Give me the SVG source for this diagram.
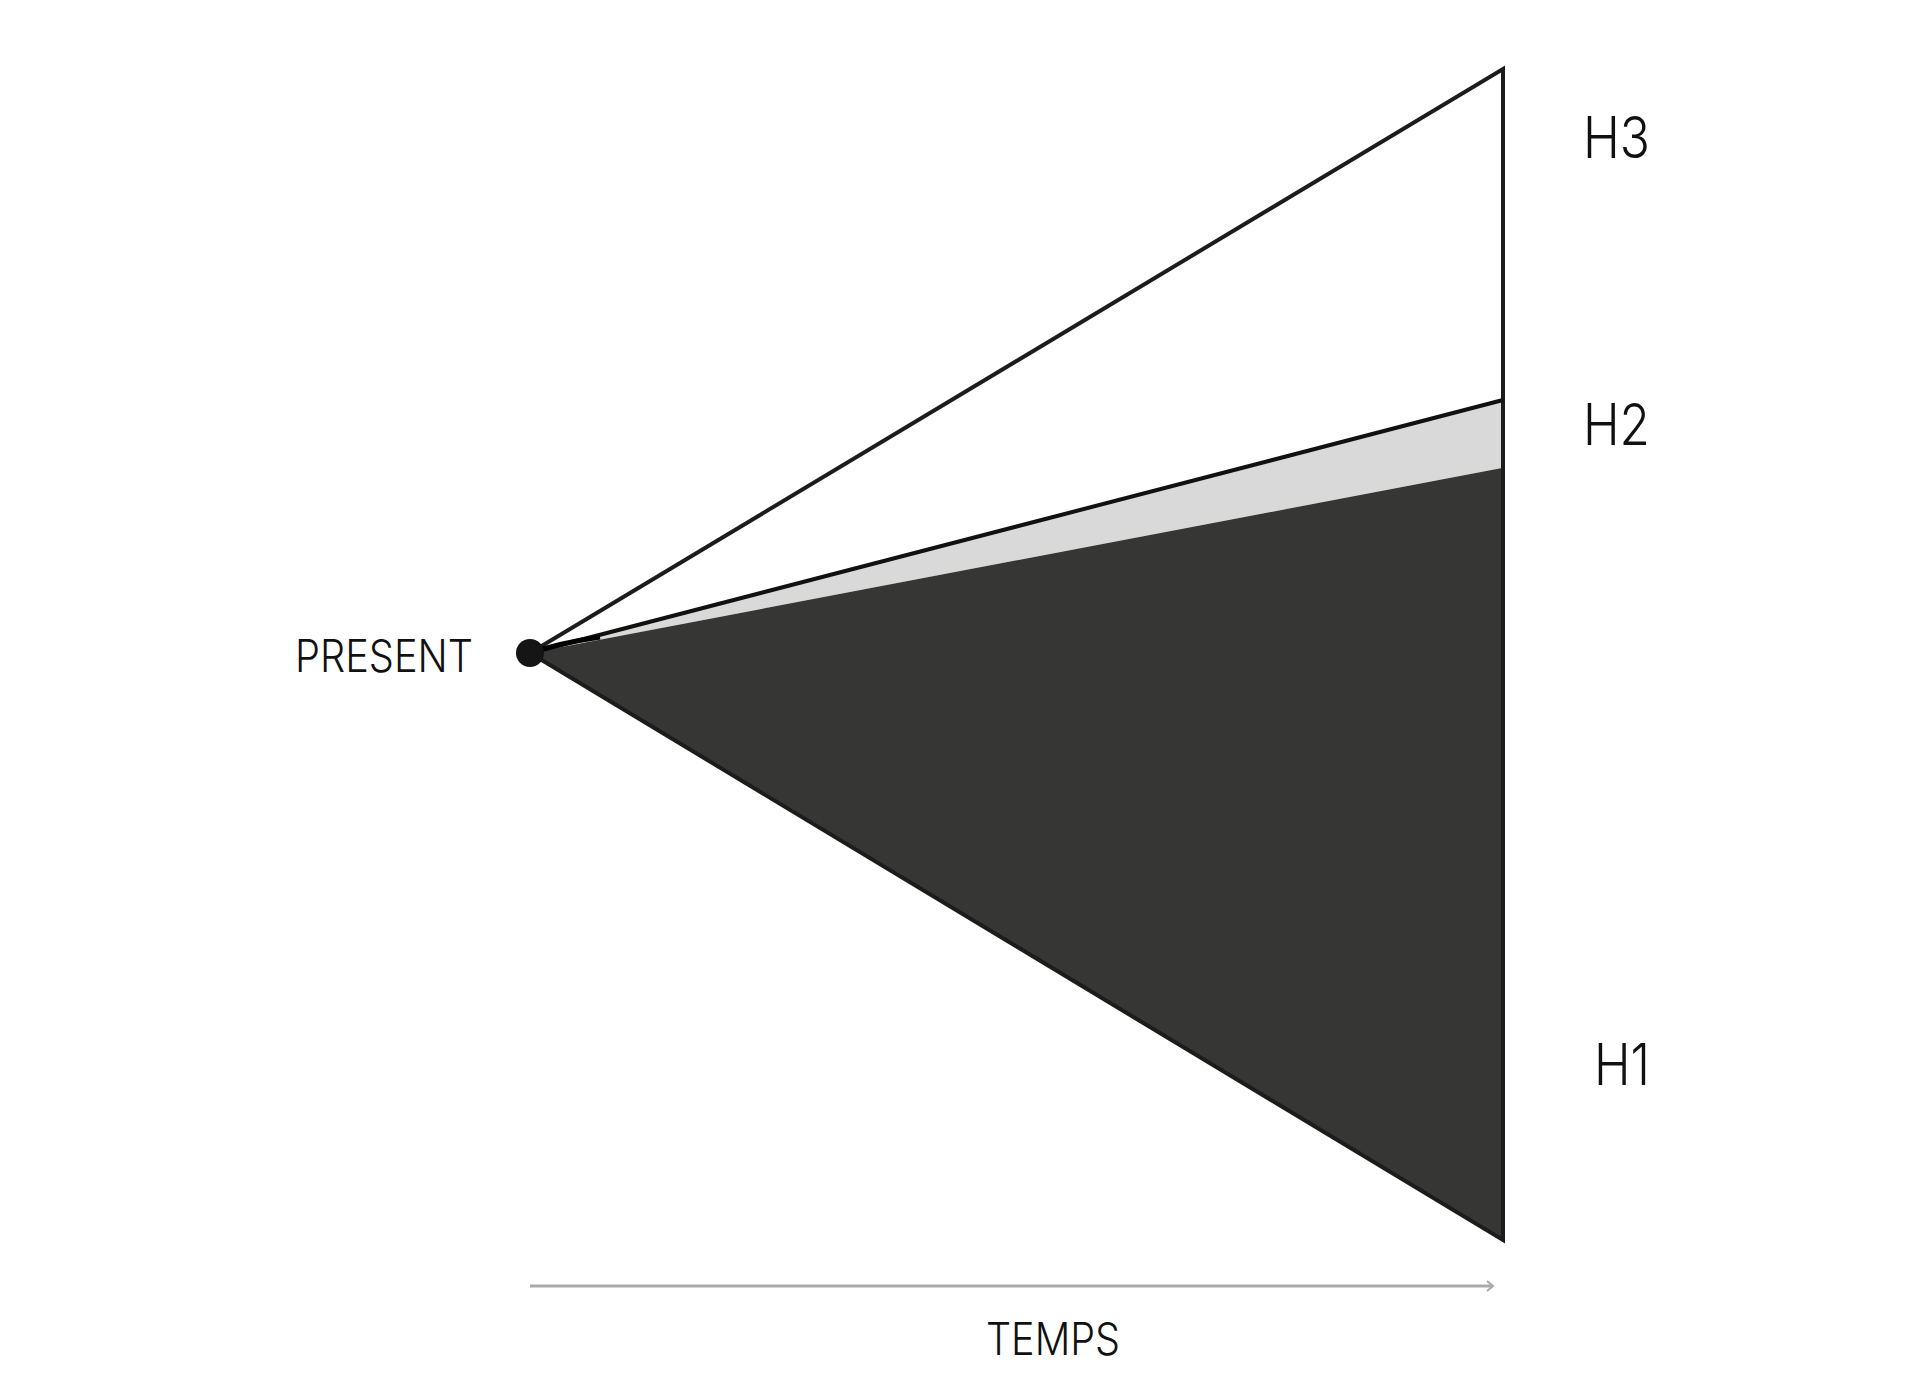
<svg xmlns="http://www.w3.org/2000/svg" width="1920" height="1380" viewBox="0 0 1920 1380">
<style>
.lbl{font-family:Inter,"Liberation Sans",sans-serif;fill:#111;font-weight:300;}
.h{font-size:57px;}
.s{font-size:45px;}
.edge{fill:none;stroke:#1c1c1c;stroke-width:4;stroke-linejoin:miter;}
</style>
<defs>
<marker id="arr" markerWidth="12" markerHeight="12" refX="9" refY="6" orient="auto" markerUnits="userSpaceOnUse">
<path d="M3,1 L9,6 L3,11" fill="none" stroke="#aaaaaa" stroke-width="2"/>
</marker>
</defs>
<rect width="1920" height="1380" fill="#ffffff"/>
<g id="h3-region">
<polygon points="530,653 1503,69 1503,400" fill="#ffffff"/>
</g>
<g id="h2-region">
<polygon points="530,653 1502,400 1502,468" fill="#d9d9d9"/>
</g>
<g id="h1-region">
<polygon points="530,653 1502,468 1503,1240" fill="#363634"/>
</g>
<g id="connectors">
<polygon class="edge" points="530,653 1503,69 1503,1240"/>
<line x1="530" y1="653" x2="1503" y2="400" stroke="#111" stroke-width="4"/>
<path d="M530,653 Q560,643 600,637" stroke="#000" stroke-width="5" fill="none"/>
<line x1="530" y1="1286" x2="1493" y2="1286" stroke="#aaaaaa" stroke-width="3" marker-end="url(#arr)"/>
</g>
<g id="present">
<circle cx="530" cy="653" r="14" fill="#151515"/>
<text class="lbl s" x="295" y="672" textLength="178" lengthAdjust="spacingAndGlyphs">PRESENT</text>
</g>
<g id="labels">
<text class="lbl h" x="1583" y="158" textLength="67" lengthAdjust="spacingAndGlyphs">H3</text>
<text class="lbl h" x="1583" y="445" textLength="67" lengthAdjust="spacingAndGlyphs">H2</text>
<text class="lbl h" x="1594" y="1085" textLength="56" lengthAdjust="spacingAndGlyphs">H1</text>
<text class="lbl s" x="986" y="1355" textLength="134" lengthAdjust="spacingAndGlyphs">TEMPS</text>
</g>
</svg>
